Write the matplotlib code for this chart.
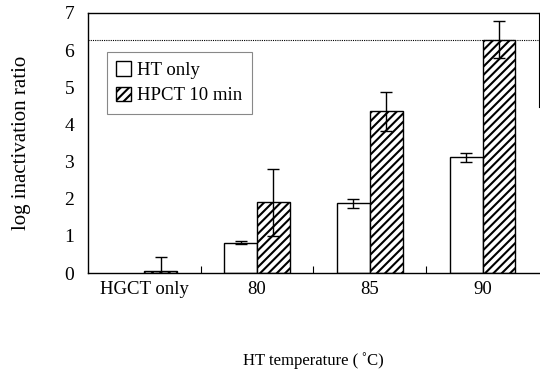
import matplotlib
matplotlib.use("Agg")
import matplotlib.pyplot as plt
import numpy as np
from matplotlib.patches import Patch

plt.rcParams['font.family'] = ['Liberation Serif', 'DejaVu Serif']
plt.rcParams['hatch.linewidth'] = 1.5

categories = ["HGCT only", "80", "85", "90"]
ht_only = [np.nan, 0.81, 1.88, 3.11]
ht_only_err_low = [0, 0.04, 0.12, 0.12]
ht_only_err_high = [0, 0.04, 0.10, 0.13]
hpct = [0.05, 1.91, 4.37, 6.28]
hpct_err_low = [0.05, 0.90, 0.55, 0.50]
hpct_err_high = [0.38, 0.90, 0.50, 0.50]
ref_line = 6.28

fig = plt.figure(figsize=(5.4, 3.7), dpi=100)
ax = fig.add_axes([0.163, 0.262, 0.835, 0.703])

x = np.arange(len(categories))
w = 0.29
ax.bar(x - w/2, ht_only, w, color='white', edgecolor='black', linewidth=1.0,
       yerr=[ht_only_err_low, ht_only_err_high], capsize=4,
       error_kw=dict(elinewidth=1.0, capthick=1.0, ecolor='black'))
ax.bar(x + w/2, hpct, w, color='white', edgecolor='black', linewidth=1.0, hatch='////',
       yerr=[hpct_err_low, hpct_err_high], capsize=4,
       error_kw=dict(elinewidth=1.0, capthick=1.0, ecolor='black'))

ax.axhline(ref_line, color='black', linestyle=(0, (1, 1)), linewidth=0.8)

ax.set_xlim(-0.5, 3.5)
ax.set_ylim(0, 7)
ax.set_yticks(range(0, 8))
ax.tick_params(axis='y', length=0, labelsize=14, pad=10)
ax.set_xticks(x)
ax.set_xticklabels(categories)
ax.tick_params(axis='x', length=0, labelsize=13.5, pad=6)
ax.set_xticks(np.arange(0.5, 3.5, 1), minor=True)
ax.tick_params(axis='x', which='minor', direction='in', length=5, width=0.8)

for s in ['left', 'bottom', 'top']:
    ax.spines[s].set_linewidth(1.0)
ax.spines['right'].set_bounds(4.47, 7)
ax.spines['right'].set_linewidth(0.8)

ax.set_ylabel("log inactivation ratio", fontsize=15, labelpad=24)
ax.set_xlabel("HT temperature (\u2009˚C)", fontsize=12, labelpad=39)

handles = [Patch(facecolor='white', edgecolor='black', label='HT only'),
           Patch(facecolor='white', edgecolor='black', hatch='////', label='HPCT 10 min')]
leg = ax.legend(handles=handles, loc='upper left', bbox_to_anchor=(0.042, 0.85),
                borderaxespad=0, fontsize=13.5, fancybox=False, framealpha=1,
                handlelength=0.8, handleheight=0.8, handletextpad=0.3,
                edgecolor='#888888', borderpad=0.5, labelspacing=0.4)
leg.get_frame().set_linewidth(0.8)

fig.savefig("out.png", dpi=100)
